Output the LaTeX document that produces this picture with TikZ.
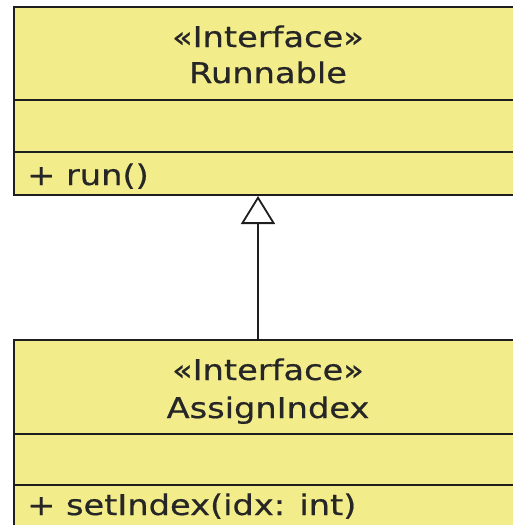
\documentclass[tikz,border=0pt]{standalone}
\usepackage{fontspec}
\newfontfamily\umlfont[FakeStretch=1.18,FakeBold=0.6]{DejaVu Sans}
\usetikzlibrary{arrows.meta}
\definecolor{umlfill}{RGB}{243,236,139}
\definecolor{umlline}{RGB}{30,30,30}
\begin{document}
\begin{tikzpicture}[x=1pt,y=-1pt,
  umlbox/.style={draw=umlline,fill=umlfill,line width=2pt,rectangle,inner sep=0pt,anchor=north west,minimum width=510pt},
  umltext/.style={font=\umlfont\fontsize{28.5}{34}\selectfont,text=black!85,inner sep=0pt,anchor=base},
  umlmember/.style={umltext,anchor=base west},
  comp/.style={draw=umlline,line width=2pt},
  realize/.style={draw=umlline,line width=1.8pt,-{Triangle[open,length=28pt,width=34pt,line width=1.8pt]}}]
\useasboundingbox (0,0) rectangle (513,525);
\clip (0,0) rectangle (513,525);
% Runnable
\node[umlbox,minimum height=188pt] (runnable) at (13,6) {};
\draw[comp] (13,100) coordinate (r1a) -- (523,100) coordinate (r1b);
\draw[comp] (13,152) coordinate (r2a) -- (523,152) coordinate (r2b);
\node[umltext] (rst) at (268,47) {«Interface»};
\node[umltext] (rname) at (268,83) {Runnable};
\node[umlmember] (rrun) at (27,185) {+ run()};
% AssignIndex
\node[umlbox,minimum height=186pt] (assign) at (13,339) {};
\draw[comp] (13,434) coordinate (a1a) -- (523,434) coordinate (a1b);
\draw[comp] (13,485) coordinate (a2a) -- (523,485) coordinate (a2b);
\node[umltext] (ast) at (268,380) {«Interface»};
\node[umltext] (aname) at (268,418) {AssignIndex};
\node[umlmember] (aset) at (27,515) {+ setIndex(idx: int)};
% realization
\coordinate (from) at (258,339);
\coordinate (to) at (258,196);
\draw[realize] (from) -- (to);
\end{tikzpicture}
\end{document}
